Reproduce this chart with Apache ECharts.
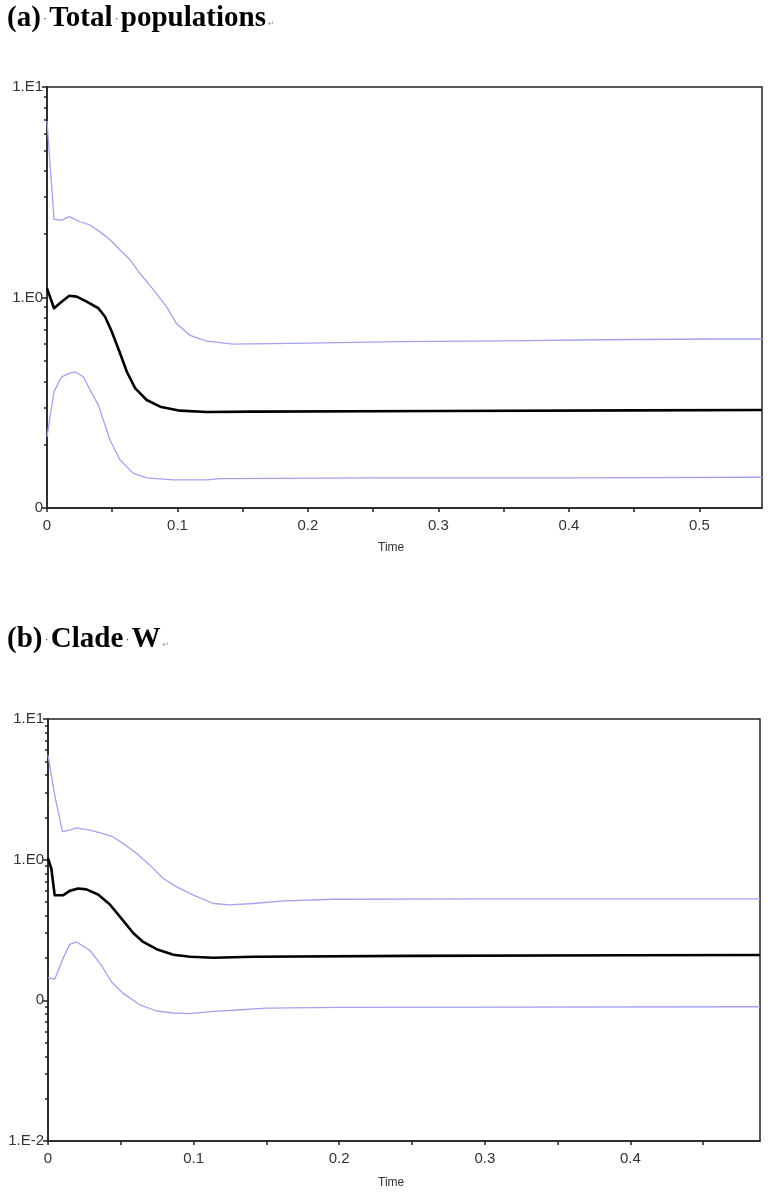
<!DOCTYPE html>
<html>
<head>
<meta charset="utf-8">
<script src="https://cdn.jsdelivr.net/npm/echarts@6/dist/echarts.min.js"></script>
<style>
html,body{margin:0;padding:0;background:#fff;}
#c{width:768px;height:1195px;}
</style>
</head>
<body>
<div id="c"></div>
<script>
// ---- Data (time, effective population size) ----
const aUpper = [[0,6.9],[0.0054,2.35],[0.0112,2.33],[0.0171,2.42],[0.0253,2.29],[0.033,2.21],[0.0406,2.05],[0.0483,1.88],[0.056,1.68],[0.0637,1.51],[0.0713,1.30],[0.0815,1.09],[0.0918,0.90],[0.0994,0.75],[0.1097,0.66],[0.1224,0.62],[0.143,0.60],[0.2,0.607],[0.271,0.617],[0.35,0.622],[0.424,0.63],[0.512,0.635],[0.548,0.635]];
const aMedian = [[0,1.105],[0.0054,0.889],[0.0112,0.955],[0.0171,1.02],[0.0228,1.01],[0.0304,0.955],[0.0394,0.889],[0.0445,0.81],[0.0496,0.69],[0.056,0.543],[0.0611,0.445],[0.0675,0.371],[0.0764,0.326],[0.0867,0.303],[0.102,0.29],[0.1224,0.286],[0.158,0.287],[0.3,0.289],[0.45,0.291],[0.548,0.292]];
const aLower = [[0,0.218],[0.0054,0.357],[0.0112,0.42],[0.0171,0.436],[0.0215,0.443],[0.0279,0.42],[0.033,0.364],[0.0394,0.308],[0.0483,0.21],[0.056,0.169],[0.0662,0.146],[0.0764,0.139],[0.0969,0.136],[0.1224,0.136],[0.1327,0.138],[0.25,0.139],[0.4,0.139],[0.548,0.14]];

const bUpper = [[0,5.53],[0.0046,2.88],[0.0099,1.58],[0.0149,1.62],[0.0195,1.68],[0.0287,1.62],[0.0379,1.53],[0.0448,1.45],[0.0517,1.30],[0.0608,1.11],[0.070,0.914],[0.0792,0.735],[0.0884,0.641],[0.0999,0.559],[0.1136,0.488],[0.125,0.477],[0.141,0.488],[0.162,0.51],[0.196,0.523],[0.3,0.526],[0.489,0.526]];
const bMedian = [[0,1.02],[0.0023,0.865],[0.0046,0.558],[0.0103,0.558],[0.0149,0.60],[0.0207,0.623],[0.0264,0.615],[0.0344,0.565],[0.0425,0.48],[0.0505,0.381],[0.0585,0.301],[0.0654,0.26],[0.0746,0.231],[0.0861,0.211],[0.0976,0.204],[0.1136,0.201],[0.141,0.204],[0.25,0.207],[0.4,0.209],[0.489,0.21]];
const bLower = [[0,0.145],[0.0046,0.141],[0.0103,0.198],[0.0149,0.25],[0.0195,0.26],[0.0287,0.227],[0.0367,0.177],[0.0436,0.135],[0.0517,0.112],[0.0631,0.093],[0.0746,0.084],[0.0861,0.0813],[0.0976,0.0805],[0.1136,0.0836],[0.1274,0.085],[0.15,0.088],[0.2,0.089],[0.489,0.09]];

// ---- Tick labels ----
const xLabelsA = [0,0.1,0.2,0.3,0.4,0.5];
const xTicksA = [0,0.05,0.1,0.15,0.2,0.25,0.3,0.35,0.4,0.45,0.5];
const xLabelsB = [0,0.1,0.2,0.3,0.4];
const xTicksB = [0,0.05,0.1,0.15,0.2,0.25,0.3,0.35,0.4,0.45];
const yLabelText = {'1':'1.E1','0':'1.E0','-1':'0','-2':'1.E-2'};
const yMinorA = [0.2,0.3,0.4,0.5,0.6,0.7,0.8,0.9,2,3,4,5,6,7,8,9];
const yMinorB = [0.02,0.03,0.04,0.05,0.06,0.07,0.08,0.09,0.2,0.3,0.4,0.5,0.6,0.7,0.8,0.9,2,3,4,5,6,7,8,9];

const AXIS = '#222';
const BAND = '#a3a3f0';
const LABEL = {color:'#333', fontFamily:'Liberation Sans, Arial, sans-serif', fontSize:15};

function xAxisCfg(grid, max, labels, ticks){
  return {
    type:'value', gridIndex:grid, min:0, max:max, position:'bottom',
    axisLine:{show:true, lineStyle:{color:AXIS, width:1.5}},
    axisTick:{show:true, length:4, inside:false, customValues:ticks, lineStyle:{color:AXIS, width:1.5}},
    axisLabel:Object.assign({customValues:labels, margin:10,
      formatter:v=> v===0 ? '0' : v.toFixed(1)}, LABEL),
    splitLine:{show:false}
  };
}
function yMajor(grid, min){
  return {
    type:'log', gridIndex:grid, min:min, max:10, logBase:10, position:'left',
    axisLine:{show:true, lineStyle:{color:AXIS, width:1.5}},
    axisTick:{show:true, length:5, lineStyle:{color:AXIS, width:1.5}},
    axisLabel:Object.assign({margin:4,
      formatter:v=> yLabelText[String(Math.round(Math.log10(v)))]}, LABEL),
    splitLine:{show:false}
  };
}
function yMinor(grid, min, vals){
  return {
    type:'log', gridIndex:grid, min:min, max:10, logBase:10, position:'left', offset:0,
    axisLine:{show:false},
    axisTick:{show:true, length:3, customValues:vals, lineStyle:{color:AXIS, width:1.5}},
    axisLabel:{show:false},
    splitLine:{show:false}
  };
}
function band(data, xi, yi){
  return {type:'line', xAxisIndex:xi, yAxisIndex:yi, data:data, symbol:'none',
    lineStyle:{color:BAND, width:1.3}, z:3};
}
function med(data, xi, yi){
  return {type:'line', xAxisIndex:xi, yAxisIndex:yi, data:data, symbol:'none',
    lineStyle:{color:'#000', width:2.6, join:'round'}, z:4};
}
function titleText(top, parts){
  let s = '';
  parts.forEach((p,i)=>{ s += '{t|' + p + '}' + (i < parts.length-1 ? '{m|·}' : '{r|↵}'); });
  return {type:'text', left:7, top:top, style:{text:s, rich:{
    t:{fontFamily:'Liberation Serif, Times New Roman, serif', fontWeight:'bold', fontSize:29, fill:'#000'},
    m:{fontFamily:'Liberation Sans, sans-serif', fontSize:13, fill:'#555', padding:[0,2,0,2]},
    r:{fontFamily:'DejaVu Sans, sans-serif', fontSize:8, fill:'#999', padding:[10,0,0,2]}
  }}};
}

const chart = echarts.init(document.getElementById('c'), null, {renderer:'canvas'});
chart.setOption({
  backgroundColor:'#fff',
  animation:false,
  grid:[
    {left:47, top:87, width:715, height:421, show:true, borderColor:AXIS, borderWidth:1.5, backgroundColor:'transparent'},
    {left:48, top:719, width:712, height:422, show:true, borderColor:AXIS, borderWidth:1.5, backgroundColor:'transparent'}
  ],
  xAxis:[
    xAxisCfg(0, 0.548, xLabelsA, xTicksA),
    xAxisCfg(1, 0.489, xLabelsB, xTicksB)
  ],
  yAxis:[
    yMajor(0, 0.1), yMinor(0, 0.1, yMinorA),
    yMajor(1, 0.01), yMinor(1, 0.01, yMinorB)
  ],
  series:[
    band(aUpper,0,0), band(aLower,0,0), med(aMedian,0,0),
    band(bUpper,1,2), band(bLower,1,2), med(bMedian,1,2)
  ],
  graphic:[
    titleText(4, ['(a)','Total','populations']),
    titleText(625, ['(b)','Clade','W']),
    {type:'text', left:378, top:542, style:{text:'Time', fontFamily:'Liberation Sans, Arial, sans-serif', fontSize:12, fill:'#333'}},
    {type:'text', left:378, top:1177, style:{text:'Time', fontFamily:'Liberation Sans, Arial, sans-serif', fontSize:12, fill:'#333'}}
  ]
});
</script>
</body>
</html>
